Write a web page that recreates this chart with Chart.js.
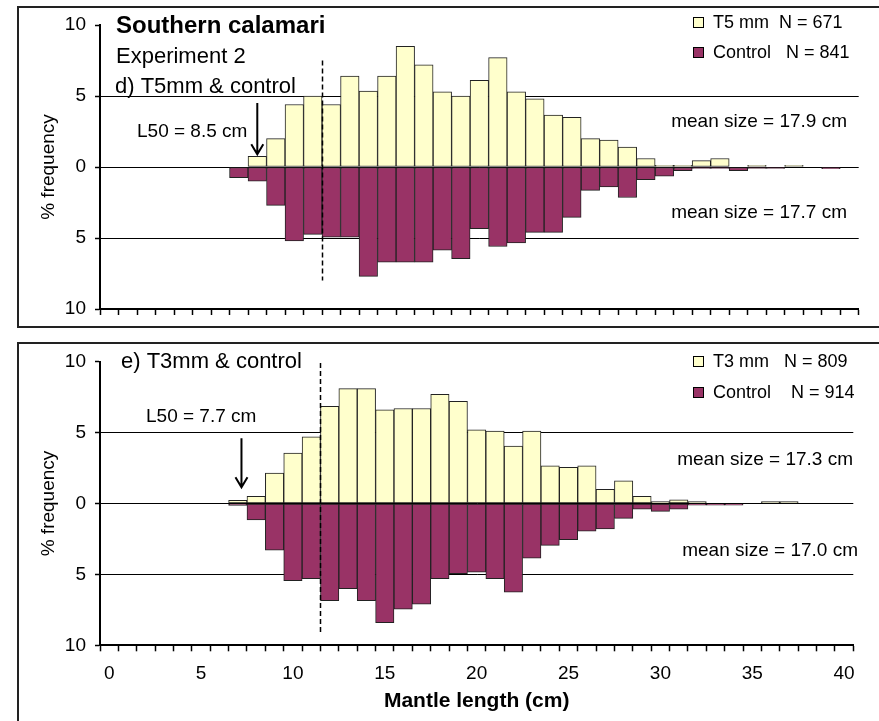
<!DOCTYPE html>
<html>
<head>
<meta charset="utf-8">
<title>Southern calamari - Experiment 2 length frequencies</title>
<script src="https://cdn.jsdelivr.net/npm/chart.js"></script>
<style>
  html, body { margin: 0; padding: 0; background: #fff; overflow: hidden; }
  body { width: 879px; height: 721px; position: relative; }
  .box { position: absolute; left: 17px; width: 900px; border: 2px solid #222; box-sizing: border-box; }
  #boxTop { top: 6px; height: 322px; }
  #boxBottom { top: 342px; height: 420px; }
  canvas { position: absolute; left: 0; }
  #chartTop { top: 0; }
  #chartBottom { top: 335px; }
</style>
</head>
<body>
<div class="box" id="boxTop"></div>
<div class="box" id="boxBottom"></div>
<canvas id="chartTop" width="879" height="335"></canvas>
<canvas id="chartBottom" width="879" height="386"></canvas>
<script>
const FONT = '"Liberation Sans", Arial, sans-serif';

// mantle length bins (cm), one bar per bin
const lengthLabels = ['0', '1', '2', '3', '4', '5', '6', '7', '8', '9', '10',
  '11', '12', '13', '14', '15', '16', '17', '18', '19', '20',
  '21', '22', '23', '24', '25', '26', '27', '28', '29', '30',
  '31', '32', '33', '34', '35', '36', '37', '38', '39', '40'];

// % frequency, panel d) T5mm vs control
const t5Pct = [0, 0, 0, 0, 0, 0, 0, 0, 0.75, 2.0, 4.4,
  5.0, 4.4, 6.4, 5.35, 6.4, 8.5, 7.2, 5.3, 5.0, 6.1,
  7.7, 5.3, 4.8, 3.65, 3.5, 2.0, 1.9, 1.4, 0.6, 0.12,
  0.12, 0.45, 0.6, 0, 0.12, 0, 0.12, 0, 0, 0];
const controlDPct = [0, 0, 0, 0, 0, 0, 0, 0.75, 1.0, 2.7, 5.2,
  4.75, 4.95, 4.95, 7.7, 6.7, 6.7, 6.7, 5.85, 6.45, 4.35,
  5.6, 5.35, 4.6, 4.6, 3.55, 1.65, 1.4, 2.15, 0.9, 0.65,
  0.25, 0.1, 0.1, 0.25, 0.1, 0.1, 0, 0, 0.12, 0];

// % frequency, panel e) T3mm vs control
const t3Pct = [0, 0, 0, 0, 0, 0, 0, 0.23, 0.5, 2.15, 3.55,
  4.7, 6.85, 8.1, 8.1, 6.6, 6.7, 6.7, 7.7, 7.2, 5.2,
  5.1, 4.05, 5.1, 2.65, 2.55, 2.65, 1.0, 1.6, 0.5, 0.14,
  0.26, 0.14, 0, 0, 0, 0.14, 0.14, 0, 0, 0];
const controlEPct = [0, 0, 0, 0, 0, 0, 0, 0.14, 1.15, 3.3, 5.45,
  5.3, 6.85, 6.0, 6.85, 8.4, 7.45, 7.1, 5.3, 4.95, 4.85,
  5.3, 6.25, 3.85, 2.95, 2.55, 1.95, 1.8, 1.05, 0.4, 0.55,
  0.4, 0.12, 0.12, 0.12, 0, 0, 0, 0, 0, 0];

const seriesD = ['T5 mm  N = 671', 'Control   N = 841'];
const seriesE = ['T3 mm   N = 809', 'Control    N = 914'];
const meanD = ['mean size = 17.9 cm', 'mean size = 17.7 cm'];
const meanE = ['mean size = 17.3 cm', 'mean size = 17.0 cm'];
const l50D = 8.5;
const l50E = 7.7;
const minLegalSize = 12;   // dashed line

const yellow = '#FFFFCC';
const purple = '#993366';

// text, arrow, dashed line and legend drawn over the bars
const notesPlugin = {
  id: 'notes',
  afterDatasetsDraw(chart, args, o) {
    const { ctx, scales: { x, y } } = chart;
    const step = x.width / lengthLabels.length;
    const xAt = cm => x.left + cm * step;
    ctx.save();
    ctx.fillStyle = '#000';
    ctx.textBaseline = 'middle';
    o.texts.forEach(t => {
      ctx.font = (t.bold ? 'bold ' : '') + t.size + 'px ' + FONT;
      ctx.textAlign = t.align || 'left';
      ctx.fillText(t.text, t.x, t.y);
    });

    // dashed reference line
    const cx = Math.round(xAt(minLegalSize)) + 0.5;
    ctx.strokeStyle = '#000';
    ctx.lineWidth = 1.5;
    ctx.setLineDash([5, 3]);
    ctx.beginPath();
    ctx.moveTo(cx, y.getPixelForValue(o.cutFrom));
    ctx.lineTo(cx, y.getPixelForValue(o.cutTo));
    ctx.stroke();
    ctx.setLineDash([]);

    // L50 arrow
    const ax = xAt(o.l50);
    const a0 = y.getPixelForValue(o.arrowFrom);
    const a1 = y.getPixelForValue(o.arrowTo);
    ctx.lineWidth = 2;
    ctx.beginPath();
    ctx.moveTo(ax, a0);
    ctx.lineTo(ax, a1);
    ctx.moveTo(ax - 6, a1 - 10);
    ctx.lineTo(ax, a1);
    ctx.lineTo(ax + 6, a1 - 10);
    ctx.stroke();

    // legend
    ctx.font = '18px ' + FONT;
    ctx.textAlign = 'left';
    chart.data.datasets.forEach((ds, i) => {
      const ly = o.legendY[i];
      ctx.fillStyle = ds.backgroundColor;
      ctx.fillRect(o.legendX, ly - 5, 11, 11);
      ctx.lineWidth = 1;
      ctx.strokeStyle = '#000';
      ctx.strokeRect(o.legendX + 0.5, ly - 4.5, 10, 10);
      ctx.fillStyle = '#000';
      ctx.fillText(ds.label, o.legendX + 20, ly + 1);
    });
    ctx.restore();
  }
};

function makePanel(id, p) {
  const bars = (label, values, sign, color) => ({
    label: label,
    data: values.map(v => (v ? sign * v : null)),
    backgroundColor: color,
    borderColor: '#222',
    borderWidth: 1,
    borderSkipped: false,
    barPercentage: 1,
    categoryPercentage: 1
  });

  return new Chart(document.getElementById(id), {
    type: 'bar',
    data: {
      labels: lengthLabels,
      datasets: [
        bars(p.series[0], p.treat, 1, yellow),
        bars(p.series[1], p.control, -1, purple)
      ]
    },
    options: {
      responsive: false,
      animation: false,
      events: [],
      layout: { padding: { left: 32, right: p.padRight, top: p.padTop, bottom: p.padBottom } },
      plugins: {
        legend: { display: false },
        tooltip: { enabled: false },
        notes: p.notes
      },
      scales: {
        x: {
          stacked: true,
          offset: true,
          grid: { offset: true, drawOnChartArea: false, drawTicks: true, tickLength: 6, tickColor: '#000', tickWidth: 1.5 },
          border: { display: true, color: '#000', width: 2 },
          ticks: {
            display: p.showX,
            autoSkip: false,
            maxRotation: 0,
            minRotation: 0,
            padding: 11,
            color: '#000',
            font: { size: 19, family: FONT },
            callback: (v, i) => (i % 5 === 0 ? lengthLabels[i] : '')
          },
          title: {
            display: p.showX,
            text: 'Mantle length (cm)',
            color: '#000',
            font: { size: 21, weight: 'bold', family: FONT },
            padding: { top: 0, bottom: 4 }
          },
          afterFit: s => { s.height = p.xHeight; }
        },
        y: {
          stacked: true,
          min: -10,
          max: 10,
          ticks: {
            stepSize: 5,
            padding: 9,
            color: '#000',
            font: { size: 19, family: FONT },
            callback: v => Math.abs(v)
          },
          grid: {
            color: c => (c.tick && Math.abs(c.tick.value) === 10 ? 'rgba(0,0,0,0)' : '#000'),
            lineWidth: 1,
            tickLength: 5,
            tickColor: '#000',
            tickWidth: 1.5
          },
          border: { display: true, color: '#000', width: 2 },
          title: {
            display: true,
            text: '% frequency',
            color: '#000',
            font: { size: 19, family: FONT },
            padding: { top: 5, bottom: 0 }
          },
          afterFit: s => { s.width = 68; }
        }
      }
    },
    plugins: [notesPlugin]
  });
}

makePanel('chartTop', {
  series: seriesD,
  treat: t5Pct,
  control: controlDPct,
  showX: false,
  xHeight: 22,
  padTop: 25,
  padBottom: 4,
  padRight: 20.3,
  notes: {
    texts: [
      { text: 'Southern calamari', x: 116, y: 26, size: 24, bold: true },
      { text: 'Experiment 2', x: 116, y: 57, size: 22 },
      { text: 'd) T5mm & control', x: 115, y: 87, size: 22 },
      { text: 'L50 = ' + l50D + ' cm', x: 137, y: 132, size: 19 },
      { text: meanD[0], x: 847, y: 122, size: 19, align: 'right' },
      { text: meanD[1], x: 847, y: 213, size: 19, align: 'right' }
    ],
    l50: l50D,
    arrowFrom: 4.5,
    arrowTo: 0.9,
    cutFrom: 7.5,
    cutTo: -8.0,
    legendX: 693,
    legendY: [22, 52]
  }
});

makePanel('chartBottom', {
  series: seriesE,
  treat: t3Pct,
  control: controlEPct,
  showX: true,
  xHeight: 72.3,
  padTop: 26.7,
  padBottom: 3.4,
  padRight: 25.7,
  notes: {
    texts: [
      { text: 'e) T3mm & control', x: 121, y: 27, size: 22 },
      { text: 'L50 = ' + l50E + ' cm', x: 146, y: 82, size: 19 },
      { text: meanE[0], x: 853, y: 125, size: 19, align: 'right' },
      { text: meanE[1], x: 858, y: 216, size: 19, align: 'right' }
    ],
    l50: l50E,
    arrowFrom: 4.6,
    arrowTo: 1.15,
    cutFrom: 9.9,
    cutTo: -9.15,
    legendX: 693,
    legendY: [26, 57]
  }
});
</script>
</body>
</html>
